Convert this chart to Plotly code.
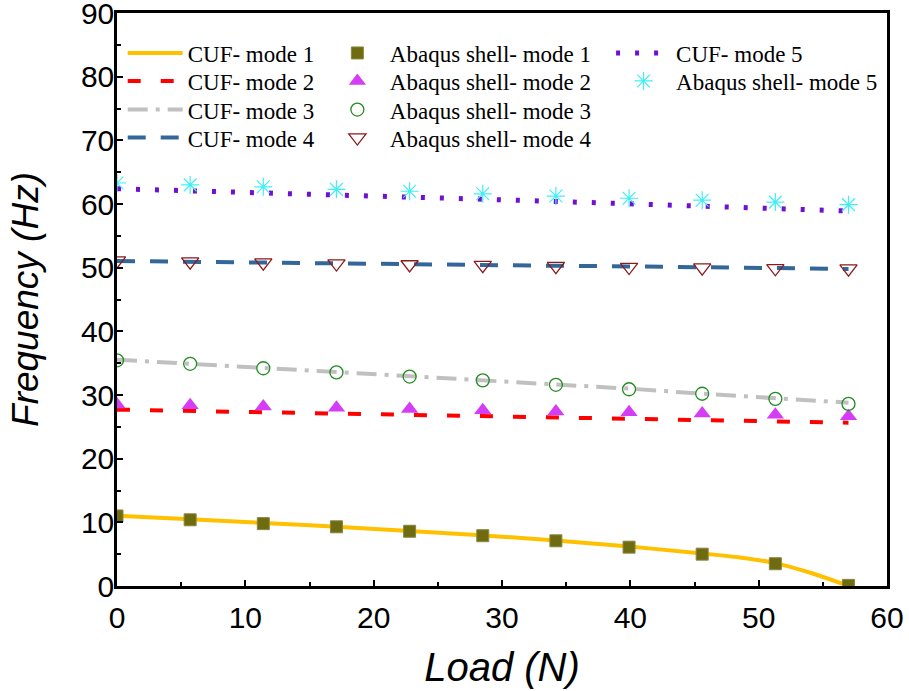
import plotly.graph_objects as go

# ---- data ----
load = [0, 5.7, 11.4, 17.1, 22.8, 28.5, 34.2, 39.9, 45.6, 51.3, 57.0]

cuf1_load = [0, 5.7, 11.4, 17.1, 22.8, 28.5, 34.2, 39.9, 45.6, 48.45, 51.3, 54.15, 57.0]
cuf1 = [11.05, 10.5, 9.9, 9.3, 8.65, 7.95, 7.15, 6.2, 5.1, 4.5, 3.6, 2.0, 0.0]
cuf2 = [27.7, 27.5, 27.3, 27.1, 26.9, 26.7, 26.5, 26.3, 26.05, 25.85, 25.65]
cuf3 = [35.55, 34.9, 34.25, 33.6, 32.95, 32.35, 31.65, 31.0, 30.2, 29.5, 28.8]
cuf4 = [51.05, 50.9, 50.8, 50.7, 50.55, 50.45, 50.3, 50.2, 50.05, 49.9, 49.8]
cuf5 = [62.4, 62.1, 61.8, 61.45, 61.1, 60.75, 60.4, 60.05, 59.7, 59.3, 58.9]

abq1 = [11.0, 10.4, 9.8, 9.3, 8.6, 7.9, 7.1, 6.1, 5.0, 3.5, 0.1]
abq2 = [28.5, 28.4, 28.2, 28.0, 27.8, 27.6, 27.4, 27.3, 27.1, 26.9, 26.65]
abq3 = [35.45, 34.9, 34.2, 33.55, 32.9, 32.3, 31.6, 30.9, 30.2, 29.4, 28.6]
abq4 = [51.1, 50.95, 50.8, 50.65, 50.5, 50.4, 50.25, 50.1, 50.0, 49.9, 49.85]
abq5 = [63.3, 63.0, 62.7, 62.3, 62.0, 61.6, 61.25, 60.9, 60.6, 60.3, 59.9]

x_ticks = [0, 10, 20, 30, 40, 50, 60]
y_ticks = [0, 10, 20, 30, 40, 50, 60, 70, 80, 90]

names_cuf = ["CUF- mode 1", "CUF- mode 2", "CUF- mode 3", "CUF- mode 4", "CUF- mode 5"]
names_abq = ["Abaqus shell- mode 1", "Abaqus shell- mode 2", "Abaqus shell- mode 3",
             "Abaqus shell- mode 4", "Abaqus shell- mode 5"]

# ---- styles ----
line_styles = [
    dict(color="#FFC000", width=4, dash="solid"),
    dict(color="#FF0000", width=4, dash="13px,20px"),
    dict(color="#C0C0C0", width=4, dash="20px,8px,4px,8px"),
    dict(color="#336699", width=4, dash="18px,15px"),
    dict(color="#7010D0", width=5, dash="4px,15px"),
]
marker_styles = [
    dict(symbol="square", size=12, color="#6F6B10", line=dict(color="#8A8640", width=1)),
    dict(symbol="triangle-up", size=15, color="#D53CF5", line=dict(width=0)),
    dict(symbol="circle-open", size=13, color="#228B22", line=dict(width=1.3)),
    dict(symbol="triangle-down-open", size=15, color="#8B1A1A", line=dict(width=1.3)),
    dict(symbol="asterisk-open", size=15, color="#3EF0F5", line=dict(width=1.2)),
]

W, H = 909, 691
ml, mr, mt, mb = 117.3, 22.3, 12.7, 105.3
pw, ph = W - ml - mr, H - mt - mb

def px2x(px):
    return (px - ml) / pw

def py2y(py):
    return 1 - (py - mt) / ph

rows = [52.7, 80.7, 109.3, 137.3]
cuf_pos = [(123, rows[0]), (123, rows[1]), (123, rows[2]), (123, rows[3]), (611, rows[0])]
abq_pos = [(325, rows[0]), (325, rows[1]), (325, rows[2]), (325, rows[3]), (611, rows[1])]

fig = go.Figure()
layout_legends = {}
lid = 1

def legend_name(i):
    return "legend" if i == 1 else "legend%d" % i

cuf_y = [cuf1, cuf2, cuf3, cuf4, cuf5]
cuf_x = [cuf1_load, load, load, load, load]
for k in range(5):
    ln = legend_name(lid)
    fig.add_trace(go.Scatter(
        x=cuf_x[k], y=cuf_y[k], mode="lines", name=names_cuf[k],
        line=dict(shape="spline", smoothing=1.0, **line_styles[k]) if k == 0 else line_styles[k],
        legend=ln, showlegend=True))
    layout_legends[ln] = cuf_pos[k]
    lid += 1

abq_y = [abq1, abq2, abq3, abq4, abq5]
for k in range(5):
    ln = legend_name(lid)
    fig.add_trace(go.Scatter(
        x=load, y=abq_y[k], mode="markers", name=names_abq[k],
        marker=marker_styles[k], legend=ln, showlegend=True, cliponaxis=True))
    layout_legends[ln] = abq_pos[k]
    lid += 1

leg_font = dict(family="Liberation Serif", size=23, color="black")
for ln, pos in layout_legends.items():
    fig.update_layout(**{ln: dict(
        x=px2x(pos[0]), y=py2y(pos[1]), xanchor="left", yanchor="middle",
        xref="paper", yref="paper", bgcolor="rgba(0,0,0,0)", borderwidth=0,
        font=leg_font, itemwidth=55, tracegroupgap=0)})

axis_common = dict(
    showline=True, linecolor="black", linewidth=2.5, mirror=True,
    ticks="inside", ticklen=6, tickwidth=2, tickcolor="black",
    showgrid=False, zeroline=False, ticklabeloverflow="allow",
    tickfont=dict(family="Liberation Sans", size=30, color="black"),
)

fig.update_xaxes(
    range=[0, 60], tickvals=x_ticks, ticktext=[str(v) for v in x_ticks],
    ticklabelstandoff=3,
    minor=dict(ticks="inside", ticklen=4, tickwidth=2, tickcolor="black", dtick=5, tick0=0, showgrid=False),
    title=dict(text="<i>Load (N)</i>", font=dict(family="Liberation Sans", size=40, color="black"), standoff=21),
    **axis_common)
fig.update_yaxes(
    range=[0, 90], tickvals=y_ticks, ticktext=[str(v) for v in y_ticks],
    ticklabelstandoff=-6,
    minor=dict(ticks="inside", ticklen=4, tickwidth=2, tickcolor="black", dtick=5, tick0=0, showgrid=False),
    title=dict(text="<i>Frequency (Hz)</i>", font=dict(family="Liberation Sans", size=37, color="black"), standoff=31),
    **axis_common)

fig.update_layout(
    width=W, height=H,
    margin=dict(l=ml, r=mr, t=mt, b=mb, autoexpand=False),
    paper_bgcolor="white", plot_bgcolor="white",
)

fig.write_html("out.html", config={"displayModeBar": False},
               post_script="document.body.style.margin='0px';")
